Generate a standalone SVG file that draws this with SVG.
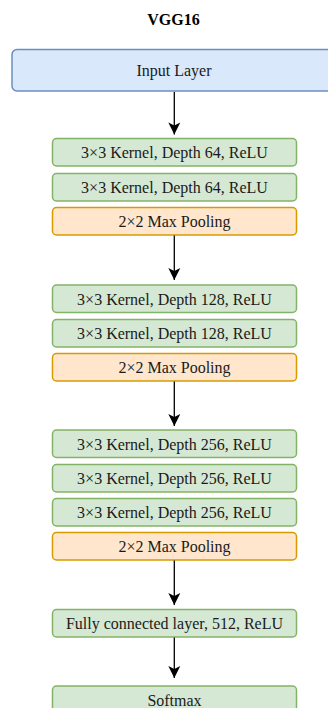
<svg xmlns="http://www.w3.org/2000/svg" width="328" height="708" viewBox="0 0 328 708">
  <style>
    .title { font-family: "Liberation Serif", "Times New Roman", serif; font-size: 16px; font-weight: bold; fill: #000; text-anchor: middle; }
    .lbl { font-family: "Liberation Serif", "Times New Roman", serif; font-size: 16px; fill: #1a1a1a; text-anchor: middle; }
    .input { fill: #dae8fc; stroke: #6c8ebf; stroke-width: 1.5; }
    .conv { fill: #d5e8d4; stroke: #82b366; stroke-width: 1.5; }
    .pool { fill: #ffe6cc; stroke: #d79b00; stroke-width: 1.5; }
    .edge { stroke: #000; stroke-width: 1.3; fill: none; marker-end: url(#head); }
  </style>
  <defs>
    <marker id="head" markerUnits="userSpaceOnUse" markerWidth="14" markerHeight="14" viewBox="0 -7 12 14" refX="12" refY="0" orient="auto">
      <path d="M0,-6 L12,0 L0,6 L3,0 Z" fill="#000"/>
    </marker>
  </defs>
  <rect width="328" height="708" fill="#fff"/>

  <text class="title" x="173.5" y="25">VGG16</text>

  <g id="input">
    <rect class="input" x="12" y="49.5" width="324" height="41.5" rx="5"/>
    <text class="lbl" x="174" y="76">Input Layer</text>
  </g>

  <g id="conv1_1">
    <rect class="conv" x="52.5" y="138.5" width="244" height="27.5" rx="4"/>
    <text class="lbl" x="174.5" y="158">3×3 Kernel, Depth 64, ReLU</text>
  </g>
  <g id="conv1_2">
    <rect class="conv" x="52.5" y="173.5" width="244" height="27.5" rx="4"/>
    <text class="lbl" x="174.5" y="193">3×3 Kernel, Depth 64, ReLU</text>
  </g>
  <g id="pool1">
    <rect class="pool" x="52.5" y="207.5" width="244" height="27.5" rx="4"/>
    <text class="lbl" x="174.5" y="227">2×2 Max Pooling</text>
  </g>

  <g id="conv2_1">
    <rect class="conv" x="52.5" y="285" width="244" height="27.5" rx="4"/>
    <text class="lbl" x="174.5" y="304.5">3×3 Kernel, Depth 128, ReLU</text>
  </g>
  <g id="conv2_2">
    <rect class="conv" x="52.5" y="319.5" width="244" height="27.5" rx="4"/>
    <text class="lbl" x="174.5" y="339">3×3 Kernel, Depth 128, ReLU</text>
  </g>
  <g id="pool2">
    <rect class="pool" x="52.5" y="353.5" width="244" height="27.5" rx="4"/>
    <text class="lbl" x="174.5" y="373">2×2 Max Pooling</text>
  </g>

  <g id="conv3_1">
    <rect class="conv" x="52.5" y="430" width="244" height="27.5" rx="4"/>
    <text class="lbl" x="174.5" y="449.5">3×3 Kernel, Depth 256, ReLU</text>
  </g>
  <g id="conv3_2">
    <rect class="conv" x="52.5" y="464.5" width="244" height="27.5" rx="4"/>
    <text class="lbl" x="174.5" y="484">3×3 Kernel, Depth 256, ReLU</text>
  </g>
  <g id="conv3_3">
    <rect class="conv" x="52.5" y="498.5" width="244" height="27.5" rx="4"/>
    <text class="lbl" x="174.5" y="518">3×3 Kernel, Depth 256, ReLU</text>
  </g>
  <g id="pool3">
    <rect class="pool" x="52.5" y="532.5" width="244" height="27.5" rx="4"/>
    <text class="lbl" x="174.5" y="552">2×2 Max Pooling</text>
  </g>

  <g id="fc">
    <rect class="conv" x="52.5" y="609.5" width="244" height="27.5" rx="4"/>
    <text class="lbl" x="174.5" y="629">Fully connected layer, 512, ReLU</text>
  </g>
  <g id="softmax">
    <rect class="conv" x="52.5" y="686" width="244" height="30" rx="4"/>
    <text class="lbl" x="174.5" y="705.5">Softmax</text>
  </g>

  <g id="connectors">
    <line class="edge" x1="174.3" y1="92" x2="174.3" y2="134.5"/>
    <line class="edge" x1="174.3" y1="235.5" x2="174.3" y2="280"/>
    <line class="edge" x1="174.3" y1="381.5" x2="174.3" y2="426"/>
    <line class="edge" x1="174.3" y1="560.5" x2="174.3" y2="605"/>
    <line class="edge" x1="174.3" y1="637.5" x2="174.3" y2="678"/>
  </g>
</svg>
